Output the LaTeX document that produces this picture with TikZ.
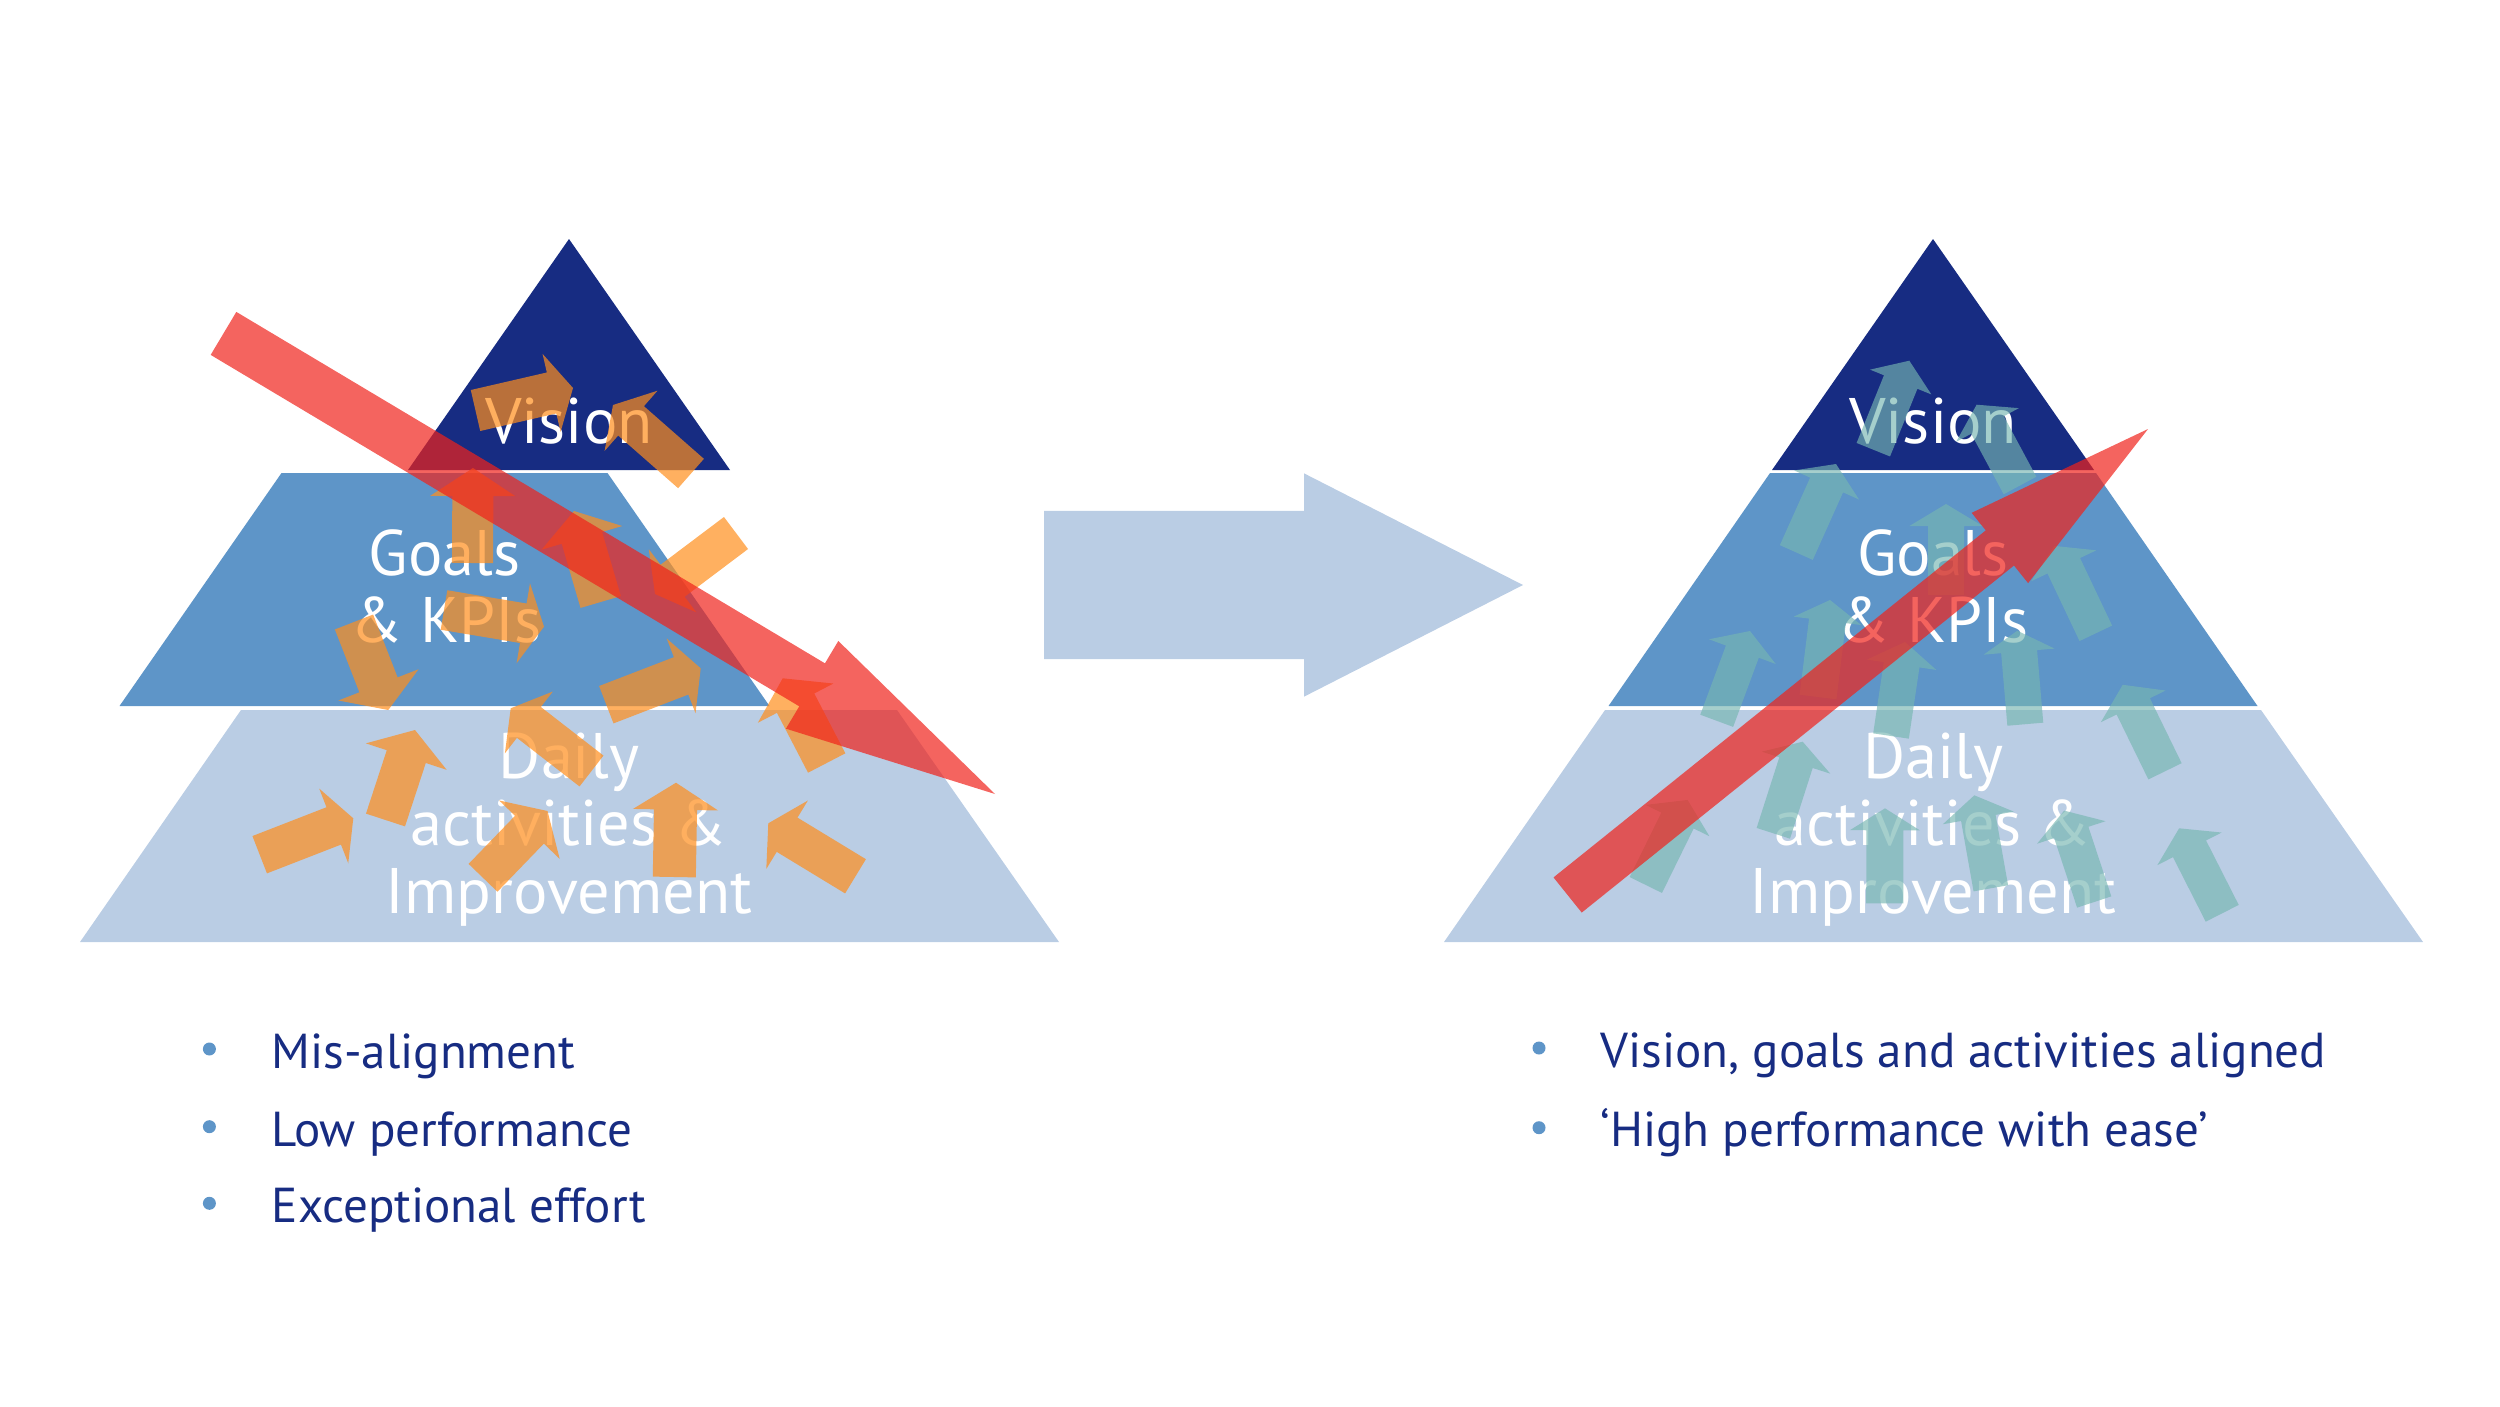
\documentclass[tikz,border=0pt]{standalone}
\usepackage{fontspec}
\setmainfont{PT Sans}
\usetikzlibrary{calc}
\definecolor{navy}{RGB}{23,44,130}
\definecolor{goalblue}{RGB}{94,149,200}
\definecolor{dailyblue}{RGB}{186,205,228}
\definecolor{arrorange}{RGB}{255,142,28}
\definecolor{arrteal}{RGB}{118,182,177}
\definecolor{arrred}{RGB}{240,34,27}
\definecolor{bulletblue}{RGB}{94,149,200}
% #1 style, #2 tail centre, #3 tip, #4 shaft width, #5 head width, #6 head length (px)
\newcommand\blockarr[6]{%
  \coordinate (ba-t) at #2;
  \coordinate (ba-h) at #3;
  \coordinate (ba-b) at ($(ba-h)!#6*0.01cm!(ba-t)$);
  \fill[#1] ($(ba-t)!#4*0.005cm!90:(ba-h)$) -- ($(ba-b)!#4*0.005cm!-90:(ba-t)$)
    -- ($(ba-b)!#5*0.005cm!-90:(ba-t)$) -- (ba-h) -- ($(ba-b)!#5*0.005cm!90:(ba-t)$)
    -- ($(ba-b)!#4*0.005cm!90:(ba-t)$) -- ($(ba-t)!#4*0.005cm!-90:(ba-h)$) -- cycle;}
\begin{document}
\begin{tikzpicture}[x=0.01cm,y=-0.01cm,
  orangearr/.style={fill=arrorange,fill opacity=0.7},
  tealarr/.style={fill=arrteal,fill opacity=0.65},
  redarr/.style={fill=arrred,fill opacity=0.7},
  bigarr/.style={fill=dailyblue},
  ptext/.style={text=white,font=\fontsize{18.3}{20}\selectfont,anchor=base,inner sep=0pt},
  btext/.style={text=navy,font=\fontsize{13.95}{15}\selectfont,anchor=base west,inner sep=0pt},
  bdot/.style={circle,fill=bulletblue,inner sep=0pt,minimum size=0.13cm}]
\useasboundingbox (0,0) rectangle (2500,1406);

% ---------- left pyramid (mis-aligned) ----------
\fill[dailyblue] (80,942) -- (1059,942) -- (897,710) -- (241,710) -- cycle;
\fill[goalblue] (119.5,706) -- (769.5,706) -- (607.5,473) -- (281.5,473) -- cycle;
\fill[navy] (408,470) -- (730,470) -- (569,239) -- cycle;
\node[ptext] (lvis) at (569,443) {Vision};
\node[ptext] (lgoa) at (444.5,575) {Goals};
\node[ptext] (lkpi) at (446,642.7) {\& KPIs};
\node[ptext] (lda1) at (569,778.3) {Daily};
\node[ptext] (lda2) at (569,845) {activities \&};
\node[ptext] (lda3) at (569,913.3) {Improvement};

% orange arrows
\blockarr{orangearr}{(475.5,410.5)}{(573,388)}{42}{80}{22}
\blockarr{orangearr}{(691,473.5)}{(613,405)}{39}{80}{24}
\blockarr{orangearr}{(472.5,563)}{(473,468)}{41}{85}{28}
\blockarr{orangearr}{(600.7,602)}{(574,511)}{42}{84}{28}
\blockarr{orangearr}{(736,533)}{(655,594)}{40}{79}{22}
\blockarr{orangearr}{(444,610)}{(544,626.7)}{40}{81}{21}
\blockarr{orangearr}{(354,622)}{(388.3,710)}{41}{86}{27}
\blockarr{orangearr}{(606.3,704.7)}{(700.7,668.3)}{40}{80}{21}
\blockarr{orangearr}{(826.7,763)}{(782.7,678.3)}{42}{85}{28}
\blockarr{orangearr}{(591.5,771)}{(510.7,708.3)}{39}{78}{23}
\blockarr{orangearr}{(385.5,820)}{(415,730)}{41}{85}{28}
\blockarr{orangearr}{(259.7,854.7)}{(353.3,818.3)}{40}{80}{21}
\blockarr{orangearr}{(483,877.8)}{(547.5,811)}{40}{84}{26}
\blockarr{orangearr}{(674.3,877)}{(676,782.7)}{43}{85}{27}
\blockarr{orangearr}{(855.5,876.3)}{(768.3,823.3)}{40}{80}{22}

% red arrow (down)
\blockarr{redarr}{(223.5,333.4)}{(995,794)}{50}{102}{213}

% ---------- middle arrow ----------
\blockarr{bigarr}{(1044,585)}{(1523,585)}{148}{223}{219}

% ---------- right pyramid (aligned) ----------
\fill[dailyblue] (1444,942) -- (2423,942) -- (2261,710) -- (1605,710) -- cycle;
\fill[goalblue] (1608.5,706) -- (2257.5,706) -- (2096,473) -- (1770,473) -- cycle;
\fill[navy] (1772,470) -- (2094,470) -- (1933,239) -- cycle;
\node[ptext] (rvis) at (1933,443) {Vision};
\node[ptext] (rgoa) at (1933,575) {Goals};
\node[ptext] (rkpi) at (1933,642.7) {\& KPIs};
\node[ptext] (rda1) at (1933,778.3) {Daily};
\node[ptext] (rda2) at (1933,845) {activities \&};
\node[ptext] (rda3) at (1933,913.3) {Improvement};

% teal arrows
\blockarr{tealarr}{(1873.3,449.7)}{(1909.3,360.7)}{36}{66}{23}
\blockarr{tealarr}{(2020,485.5)}{(1976.6,404.7)}{37}{71}{23}
\blockarr{tealarr}{(1796.3,552.5)}{(1836,464)}{36}{71}{23}
\blockarr{tealarr}{(1946,595)}{(1946,504)}{36}{73}{22}
\blockarr{tealarr}{(2095.8,633.3)}{(2054.3,545.9)}{36}{72}{22}
\blockarr{tealarr}{(1818,697)}{(1830,600)}{37}{68}{21}
\blockarr{tealarr}{(1716.7,720.8)}{(1750,631)}{35}{71}{22}
\blockarr{tealarr}{(1891,736)}{(1905,642)}{36}{70}{23}
\blockarr{tealarr}{(2025.3,724.2)}{(2017.3,630.7)}{36}{71}{21}
\blockarr{tealarr}{(2165,771.3)}{(2122.7,684.8)}{37}{72}{24}
\blockarr{tealarr}{(1773.3,833.3)}{(1802.7,741.7)}{35}{72}{22}
\blockarr{tealarr}{(1645.8,885)}{(1687.6,799.9)}{36}{71}{23}
\blockarr{tealarr}{(1884.7,903.3)}{(1885,808.3)}{37}{70}{22}
\blockarr{tealarr}{(1990.8,888.3)}{(1974.3,795.3)}{35}{72}{23}
\blockarr{tealarr}{(2094.2,902)}{(2064.1,810.6)}{36}{72}{23}
\blockarr{tealarr}{(2222.2,913.3)}{(2179.1,828.3)}{37}{72}{23}

% red arrow (up)
\blockarr{redarr}{(1567.6,895)}{(2148,429)}{45}{90}{190}

% ---------- bullets ----------
\node[bdot] (ld1) at (209.4,1049) {};
\node[bdot] (ld2) at (209.4,1126.7) {};
\node[bdot] (ld3) at (209.4,1203.3) {};
\node[btext] (lb1) at (271,1068.3) {Mis-alignment};
\node[btext] (lb2) at (271,1146) {Low performance};
\node[btext] (lb3) at (271,1222.7) {Exceptional effort};
\node[bdot] (rd1) at (1539,1048) {};
\node[bdot] (rd2) at (1539,1127.7) {};
\node[btext] (rb1) at (1600,1067.7) {Vision, goals and activities aligned};
\node[btext] (rb2) at (1600,1146.7) {‘High performance with ease’};
\end{tikzpicture}
\end{document}
